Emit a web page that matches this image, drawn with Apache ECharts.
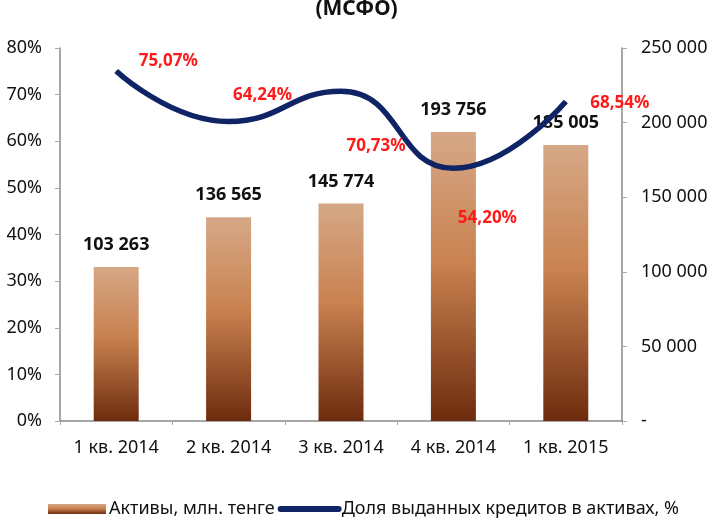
<!DOCTYPE html>
<html>
<head>
<meta charset="utf-8">
<script src="https://cdn.jsdelivr.net/npm/echarts@6/dist/echarts.min.js"></script>
<style>
  html, body { margin: 0; padding: 0; background: #fff; }
  #chart { width: 713px; height: 520px; }
</style>
</head>
<body>
<div id="chart"></div>
<script>
const categories = ['1 кв. 2014', '2 кв. 2014', '3 кв. 2014', '4 кв. 2014', '1 кв. 2015']
const assets = [103263, 136565, 145774, 193756, 185005]
const loanShare = [75.07, 64.24, 70.73, 54.20, 68.54]
// where each red label sits relative to its point (as in the original)
const shareLabelOffsets = [[52, -10], [34, -26], [35, 55], [34, 50], [54, 2]]

const font = 'Noto Sans'
const chart = echarts.init(document.getElementById('chart'))

const fmtThousands = (v) => v === 0 ? '-' : String(v).replace(/\B(?=(\d{3})+(?!\d))/g, ' ')
const fmtPct = (v) => v.toFixed(2).replace('.', ',') + '%'

chart.setOption({
  animation: false,
  title: {
    text: '(МСФО)',
    left: 'center',
    top: -6,
    textStyle: { fontFamily: font, fontSize: 21, fontWeight: 'bold', color: '#111' }
  },
  grid: { left: 60, right: 91, top: 48, bottom: 99 },
  legend: {
    bottom: -3,
    left: 43,
    itemGap: 3,
    itemWidth: 58,
    itemHeight: 10,
    textStyle: { fontFamily: font, fontSize: 18, color: '#111', padding: [0, 0, 0, -2] },
    data: [
      { name: 'Активы, млн. тенге', icon: 'rect' },
      {
        name: 'Доля выданных кредитов в активах, %',
        itemStyle: { opacity: 0 },
        lineStyle: { width: 6, cap: 'round', color: '#0f2464' }
      }
    ]
  },
  xAxis: {
    type: 'category',
    data: categories,
    axisLine: { lineStyle: { color: '#888', width: 1.5 } },
    axisTick: { show: true, length: 4, lineStyle: { color: '#aaa' } },
    axisLabel: { fontFamily: font, fontSize: 18, color: '#111', margin: 18 }
  },
  yAxis: [
    {
      type: 'value',
      min: 0, max: 80, interval: 10,
      axisLine: { show: true, lineStyle: { color: '#888', width: 1.5 } },
      axisTick: { show: true, length: 5, lineStyle: { color: '#aaa' } },
      splitLine: { show: false },
      axisLabel: { fontFamily: font, fontSize: 18, color: '#111', margin: 18, formatter: '{value}%' }
    },
    {
      type: 'value',
      min: 0, max: 250000, interval: 50000,
      axisLine: { show: true, lineStyle: { color: '#888', width: 1.5 } },
      axisTick: { show: true, length: 5, lineStyle: { color: '#aaa' } },
      splitLine: { show: false },
      axisLabel: { fontFamily: font, fontSize: 18, color: '#111', margin: 19, formatter: fmtThousands }
    }
  ],
  series: [
    {
      name: 'Активы, млн. тенге',
      type: 'bar',
      yAxisIndex: 1,
      barWidth: 45,
      data: assets,
      itemStyle: {
        color: new echarts.graphic.LinearGradient(0, 0, 0, 1, [
          { offset: 0, color: '#d6a887' },
          { offset: 0.45, color: '#c98250' },
          { offset: 1, color: '#6e2c0e' }
        ])
      },
      label: {
        show: true,
        position: 'top',
        distance: 13,
        fontFamily: font,
        fontSize: 18,
        fontWeight: 'bold',
        color: '#111',
        formatter: (p) => fmtThousands(p.value)
      }
    },
    {
      name: 'Доля выданных кредитов в активах, %',
      type: 'line',
      yAxisIndex: 0,
      smooth: 0.5,
      symbol: 'circle',
      symbolSize: 1,
      showSymbol: true,
      lineStyle: { color: '#0f2464', width: 5.5 },
      itemStyle: { color: '#0f2464' },
      data: loanShare.map((v, i) => ({
        value: v,
        label: { offset: shareLabelOffsets[i] }
      })),
      label: {
        show: true,
        position: 'inside',
        fontFamily: font,
        fontSize: 17,
        fontWeight: 'bold',
        color: '#ff1a1a',
        formatter: (p) => fmtPct(p.value)
      },
      z: 5
    }
  ]
})
</script>
</body>
</html>
